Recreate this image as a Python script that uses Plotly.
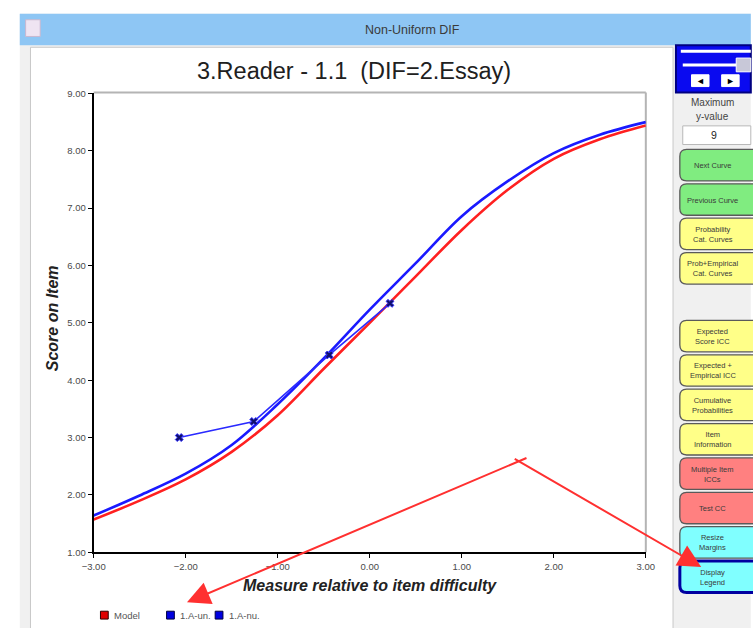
import plotly.graph_objects as go

W, H = 753, 628


def px(x):
    return x / W


def py(y):
    return 1 - y / H


# ---------------- data ----------------
theta = [-3.0, -2.5, -2.0, -1.5, -1.0, -0.5, 0.0, 0.5, 1.0, 1.5, 2.0, 2.5, 3.0]
model_score = [1.57, 1.90, 2.27, 2.75, 3.39, 4.20, 5.00, 5.81, 6.62, 7.32, 7.86, 8.20, 8.44]
dif_score = [1.64, 1.99, 2.37, 2.87, 3.58, 4.38, 5.23, 6.04, 6.86, 7.47, 7.96, 8.28, 8.50]
emp_x = [-2.07, -1.26, -0.44, 0.22]
emp_y = [3.00, 3.28, 4.44, 5.34]
x_ticks = [-3, -2, -1, 0, 1, 2, 3]
y_ticks = [1, 2, 3, 4, 5, 6, 7, 8, 9]
legend_names = ["Model", "1.A-un.", "1.A-nu."]
legend_colors = ["#e00000", "#0000e0", "#0000e0"]

title_text = "3.Reader - 1.1\u00a0\u00a0(DIF=2.Essay)"
window_title = "Non-Uniform DIF"

buttons = [
    (["Next Curve"], 146, 178, "#80ec80"),
    (["Previous Curve"], 181, 213, "#80ec80"),
    (["Probability", "Cat. Curves"], 216, 248, "#ffff88"),
    (["Prob+Empirical", "Cat. Curves"], 251, 283, "#ffff88"),
    (["Expected", "Score ICC"], 320, 352, "#ffff88"),
    (["Expected +", "Empirical ICC"], 355, 387, "#ffff88"),
    (["Cumulative", "Probabilities"], 390, 422, "#ffff88"),
    (["Item", "Information"], 425, 457, "#ffff88"),
    (["Multiple Item", "ICCs"], 460, 492, "#ff8080"),
    (["Test CC"], 495, 527, "#ff8080"),
    (["Resize", "Margins"], 530, 562, "#80ffff"),
    (["Display", "Legend"], 565, 597, "#80ffff"),
]

FONT = "Arial, Liberation Sans, sans-serif"

fig = go.Figure()
fig.add_trace(go.Scatter(
    x=theta, y=model_score, mode="lines", name="Model",
    line=dict(color="#ff2020", width=2.6, shape="spline"), showlegend=False))
fig.add_trace(go.Scatter(
    x=theta, y=dif_score, mode="lines", name="1.A-un.",
    line=dict(color="#1a1aff", width=2.6, shape="spline"), showlegend=False))
fig.add_trace(go.Scatter(
    x=emp_x, y=emp_y, mode="lines+markers", name="1.A-nu.",
    line=dict(color="#2a2aff", width=1.6),
    marker=dict(symbol="x", size=7, color="#10106a",
                line=dict(color="#3030ff", width=1)),
    showlegend=False))

shapes = []


def rect(x0, y0, x1, y1, fill, line_color=None, lw=0, layer="below"):
    shapes.append(dict(type="rect", xref="paper", yref="paper",
                       x0=px(x0), x1=px(x1), y0=py(y1), y1=py(y0),
                       fillcolor=fill,
                       line=dict(color=line_color or fill, width=lw),
                       layer=layer))


def hline(x0, x1, y, color, w, layer="below"):
    shapes.append(dict(type="line", xref="paper", yref="paper",
                       x0=px(x0), x1=px(x1), y0=py(y), y1=py(y),
                       line=dict(color=color, width=w), layer=layer))


def vline(x, y0, y1, color, w, layer="below"):
    shapes.append(dict(type="line", xref="paper", yref="paper",
                       x0=px(x), x1=px(x), y0=py(y0), y1=py(y1),
                       line=dict(color=color, width=w), layer=layer))


def rrect(x0, y0, x1, y1, r, fill, line_color, lw):
    def P(x, y):
        return f"{px(x):.5f},{py(y):.5f}"
    path = (f"M{P(x0 + r, y0)} L{P(x1 - r, y0)} Q{P(x1, y0)} {P(x1, y0 + r)} "
            f"L{P(x1, y1 - r)} Q{P(x1, y1)} {P(x1 - r, y1)} L{P(x0 + r, y1)} "
            f"Q{P(x0, y1)} {P(x0, y1 - r)} L{P(x0, y0 + r)} Q{P(x0, y0)} {P(x0 + r, y0)} Z")
    shapes.append(dict(type="path", xref="paper", yref="paper", path=path,
                       fillcolor=fill, line=dict(color=line_color, width=lw),
                       layer="above"))


# window chrome
rect(0, 0, 760, 640, "#ffffff")
rect(8, 8, 760, 640, "#f0f0f0")
rect(8, 8, 760, 40, "#8ec6f4")
rect(14, 14, 29, 31, "#efe4f2", "#c8b8d0", 1)
rect(19, 42, 680, 640, "#ffffff", "#c8c8c8", 1)
# plot frame (top/right)
hline(84, 652, 88, "#b4b4b4", 2)
vline(652, 88, 556, "#b4b4b4", 2)

# right control panel
rect(683, 40, 760, 88, "#0a0af0", "#000080", 2, layer="above")
hline(688, 760, 46, "#ffffff", 3, layer="above")
hline(690, 745, 60, "#ffffff", 3, layer="above")
rect(745, 53, 760, 67, "#c8c8d8", "#ffffff", 1, layer="above")
rect(699, 70, 717, 82, "#ffffff", "#ffffff", 1, layer="above")
rect(730, 70, 748, 82, "#ffffff", "#ffffff", 1, layer="above")
rect(690, 122, 760, 141, "#ffffff", "#b8b8b8", 1, layer="above")

for lines, y0, y1, col in buttons:
    if lines[0] == "Display":
        rrect(687, y0, 770, y1, 7, col, "#0000a0", 3)
    else:
        rrect(687, y0, 770, y1, 7, col, "#5a5a5a", 1.3)

# legend swatches
sw_x = [91, 159, 209]
for xs, c in zip(sw_x, legend_colors):
    rect(xs, 616, xs + 8, 624, c, "#300000" if c == "#e00000" else "#000040", 1, layer="above")

annotations = []


def text(x, y, s, size, color="#333333", anchor="center", family=FONT, **kw):
    annotations.append(dict(x=px(x), y=py(y), xref="paper", yref="paper",
                            text=s, showarrow=False, xanchor=anchor,
                            yanchor="middle",
                            font=dict(size=size, color=color, family=family),
                            **kw))


text(412, 24, window_title, 12.5, "#3a3a3a")
text(352, 66, title_text, 23.5, "#202020")
text(42, 318, "<b><i>Score on Item</i></b>", 16, "#222222", textangle=-90)
text(368, 590, "<b><i>Measure relative to item difficulty</i></b>", 16, "#222222")
for xs, name in zip(sw_x, legend_names):
    text(xs + 12, 620, name, 9.5, "#555555", anchor="left")

text(721, 98, "Maximum", 10, "#444444")
text(721, 112, "y-value", 10, "#444444")
text(722, 131, "9", 10.5, "#222222")
text(708, 76, "\u25c4", 9, "#000000")
text(739, 76, "\u25ba", 9, "#000000")

for lines, y0, y1, col in buttons:
    text(721, (y0 + y1) / 2 + 0.5, "<br>".join(lines), 7.5, "#3a3a3a")

# red arrows
annotations.append(dict(x=px(180), y=py(607), xref="paper", yref="paper",
                        ax=521 - 180, ay=462 - 607, axref="pixel", ayref="pixel",
                        text="", showarrow=True, arrowhead=2, arrowsize=2.3,
                        arrowwidth=2, arrowcolor="#ff3030", standoff=0))
annotations.append(dict(x=px(709), y=py(571), xref="paper", yref="paper",
                        ax=521 - 709, ay=462 - 571, axref="pixel", ayref="pixel",
                        text="", showarrow=True, arrowhead=2, arrowsize=2.3,
                        arrowwidth=2, arrowcolor="#ff3030", standoff=0))

fig.update_layout(
    width=W, height=H, autosize=False,
    margin=dict(l=0, r=0, t=0, b=0),
    paper_bgcolor="#ffffff", plot_bgcolor="rgba(0,0,0,0)",
    shapes=shapes, annotations=annotations, showlegend=False,
    xaxis=dict(domain=[px(84), px(652)], range=[-3, 3],
               tickvals=x_ticks, tickformat=".2f",
               showline=True, linecolor="#000000", linewidth=2,
               ticks="outside", ticklen=4, tickwidth=1, tickcolor="#000000",
               showgrid=False, zeroline=False,
               tickfont=dict(size=9.5, color="#4a4a4a", family=FONT)),
    yaxis=dict(domain=[py(556), py(89)], range=[1, 9],
               tickvals=y_ticks, tickformat=".2f",
               showline=True, linecolor="#000000", linewidth=2,
               ticks="outside", ticklen=4, tickwidth=1, tickcolor="#000000",
               showgrid=False, zeroline=False,
               tickfont=dict(size=9.5, color="#4a4a4a", family=FONT)),
)

fig.write_html(
    "out.html",
    config={"displayModeBar": False},
    post_script="document.body.style.margin='0px';document.body.style.overflow='hidden';",
)
